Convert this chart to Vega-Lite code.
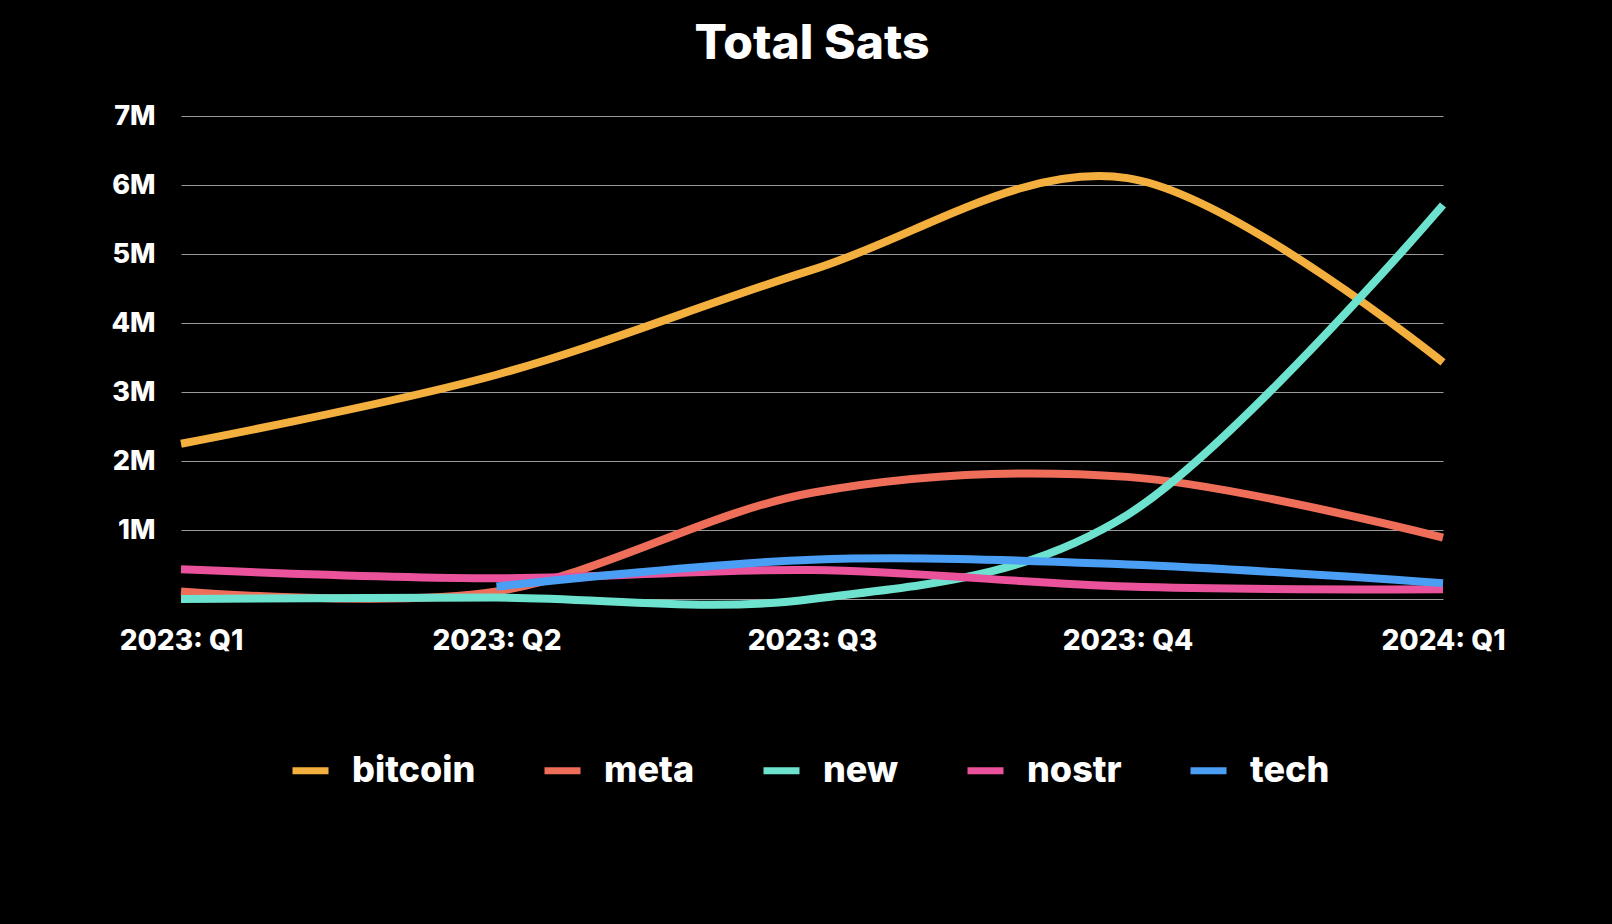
{
  "$schema": "https://vega.github.io/schema/vega-lite/v6.json",
  "autosize": {"type": "none"},
  "padding": {"left": 181, "top": 116, "right": 169, "bottom": 325},
  "width": 1262,
  "height": 483,
  "background": "#000000",
  "title": {
    "text": "Total Sats",
    "anchor": "middle",
    "font": "Inter",
    "fontSize": 48,
    "fontWeight": 800,
    "color": "#ffffff",
    "offset": 33
  },
  "data": {
    "values": [
      {"quarter": "2023: Q1", "category": "bitcoin", "sats": 2250000},
      {"quarter": "2023: Q2", "category": "bitcoin", "sats": 3250000},
      {"quarter": "2023: Q3", "category": "bitcoin", "sats": 4770000},
      {"quarter": "2023: Q4", "category": "bitcoin", "sats": 6100000},
      {"quarter": "2024: Q1", "category": "bitcoin", "sats": 3430000},
      {"quarter": "2023: Q1", "category": "meta", "sats": 110000},
      {"quarter": "2023: Q2", "category": "meta", "sats": 110000},
      {"quarter": "2023: Q3", "category": "meta", "sats": 1540000},
      {"quarter": "2023: Q4", "category": "meta", "sats": 1770000},
      {"quarter": "2024: Q1", "category": "meta", "sats": 890000},
      {"quarter": "2023: Q1", "category": "new", "sats": 0},
      {"quarter": "2023: Q2", "category": "new", "sats": 20000},
      {"quarter": "2023: Q3", "category": "new", "sats": 0},
      {"quarter": "2023: Q4", "category": "new", "sats": 1220000},
      {"quarter": "2024: Q1", "category": "new", "sats": 5710000},
      {"quarter": "2023: Q1", "category": "nostr", "sats": 430000},
      {"quarter": "2023: Q2", "category": "nostr", "sats": 300000},
      {"quarter": "2023: Q3", "category": "nostr", "sats": 420000},
      {"quarter": "2023: Q4", "category": "nostr", "sats": 180000},
      {"quarter": "2024: Q1", "category": "nostr", "sats": 140000},
      {"quarter": "2023: Q2", "category": "tech", "sats": 180000},
      {"quarter": "2023: Q3", "category": "tech", "sats": 570000},
      {"quarter": "2023: Q4", "category": "tech", "sats": 500000},
      {"quarter": "2024: Q1", "category": "tech", "sats": 230000}
    ]
  },
  "mark": {"type": "line", "interpolate": "cardinal", "strokeWidth": 8},
  "encoding": {
    "x": {
      "field": "quarter",
      "type": "ordinal",
      "sort": null,
      "scale": {"type": "point", "padding": 0},
      "axis": {
        "title": null,
        "labelAngle": 0,
        "labelFont": "Inter",
        "labelFontSize": 28,
        "labelFontWeight": 800,
        "labelColor": "#ffffff",
        "labelPadding": 28,
        "ticks": false,
        "domain": false,
        "grid": false
      }
    },
    "y": {
      "field": "sats",
      "type": "quantitative",
      "scale": {"domain": [0, 7000000]},
      "axis": {
        "title": null,
        "values": [0, 1000000, 2000000, 3000000, 4000000, 5000000, 6000000, 7000000],
        "format": "~s",
        "labelExpr": "datum.value == 0 ? '' : datum.label",
        "labelFont": "Inter",
        "labelFontSize": 27,
        "labelFontWeight": 800,
        "labelColor": "#ffffff",
        "labelPadding": 26,
        "ticks": false,
        "domain": false,
        "gridColor": "#9a9a9a",
        "gridWidth": 1
      }
    },
    "color": {
      "field": "category",
      "type": "nominal",
      "scale": {
        "domain": ["bitcoin", "meta", "new", "nostr", "tech"],
        "range": ["#f4b03f", "#ee6e5a", "#6de3cf", "#ea529b", "#4a9ff5"]
      },
      "legend": {
        "title": null,
        "orient": "none",
        "legendX": 108,
        "legendY": 633,
        "direction": "horizontal",
        "symbolType": "stroke",
        "symbolSize": 1296,
        "symbolStrokeWidth": 7,
        "labelFont": "Inter",
        "labelFontSize": 36,
        "labelFontWeight": 800,
        "labelColor": "#ffffff",
        "labelOffset": 20,
        "columnPadding": 54
      }
    }
  },
  "config": {
    "view": {"stroke": null}
  }
}
